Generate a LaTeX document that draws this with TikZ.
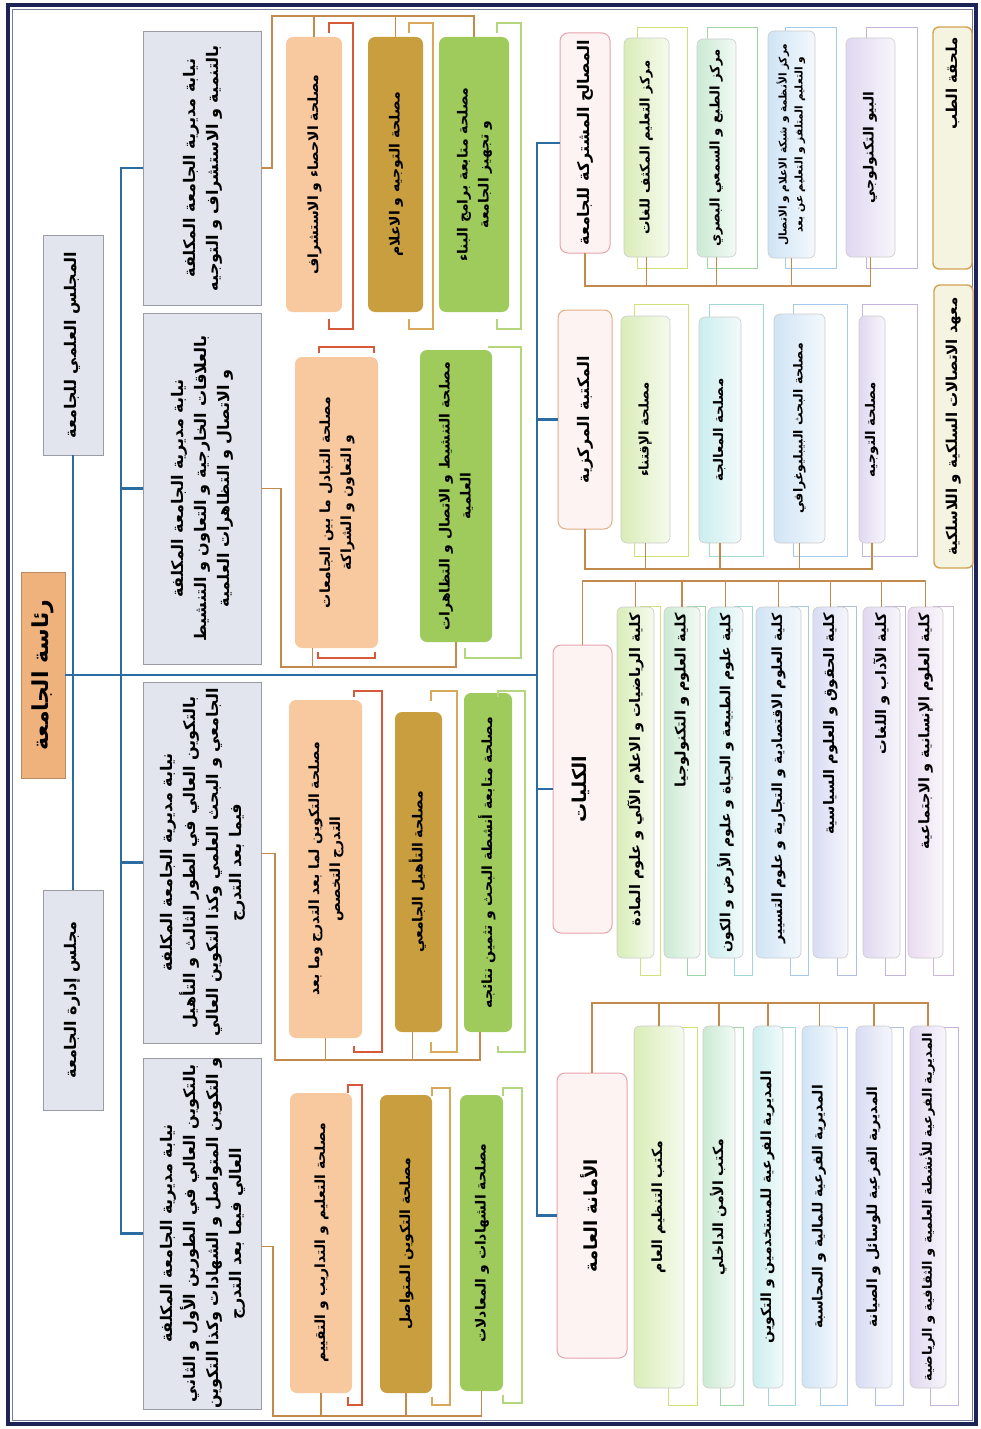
\documentclass[tikz,border=0pt]{standalone}
\usepackage{fontspec}
\usepackage{graphicx}
\usetikzlibrary{calc}
\newfontfamily\ar[Script=Arabic]{DejaVu Sans}
\TeXXeTstate=1
\newcommand\AR[1]{\beginR#1\endR}
\newcommand\vt[1]{\rotatebox{90}{\begin{tabular}{@{}c@{}}#1\end{tabular}}}
\newcommand\vtopal[2]{\rotatebox{90}{\makebox[#1][r]{#2}}}
\newcommand\rbr[7]{\draw[#1] ($(#2.north east)+(-#3,-#5+#7)$) -- ++(0,-#7) -| ($(#2.south east)+(#4,#6)$) -- ++({-#3-#4},0) -- ++(0,-#7);}
\definecolor{navy}{HTML}{1B2357}
\definecolor{blueL}{HTML}{2B6CA3}
\definecolor{brownL}{HTML}{C38A4E}
\definecolor{greyF}{HTML}{E3E5EE}
\definecolor{greyD}{HTML}{9B9CA3}
\definecolor{presF}{HTML}{F0B27C}
\definecolor{presD}{HTML}{B98A62}
\definecolor{orF}{HTML}{F8C89E}
\definecolor{goF}{HTML}{C99E3E}
\definecolor{grF}{HTML}{9ECB5C}
\definecolor{redB}{HTML}{D65A3A}
\definecolor{goB}{HTML}{D9A85A}
\definecolor{grB}{HTML}{B4D67C}
\definecolor{pkF}{HTML}{FDF3F3}
\definecolor{pkD}{HTML}{E7A3AC}
\definecolor{orD}{HTML}{E2AE86}
\definecolor{ylF}{HTML}{F4F4E0}
\definecolor{ylD}{HTML}{D5A252}
\definecolor{cYG}{HTML}{D9EDB8}
\definecolor{cGR}{HTML}{CBEAD3}
\definecolor{cTE}{HTML}{CBEDEE}
\definecolor{cBL}{HTML}{D0E4F5}
\definecolor{cLB}{HTML}{D8DCF3}
\definecolor{cLV}{HTML}{E0D8F1}
\definecolor{cPK}{HTML}{E9DBF0}
\definecolor{fYG}{HTML}{D3E07A}
\definecolor{fGR}{HTML}{9FD6A6}
\definecolor{fTE}{HTML}{9FD8D6}
\definecolor{fBL}{HTML}{A6CBEA}
\definecolor{fLB}{HTML}{B3BCE6}
\definecolor{fLV}{HTML}{C3B4DE}
\definecolor{fPK}{HTML}{CDB6D8}
\tikzset{
  bx/.style={anchor=north west, inner sep=0pt, outer sep=0pt},
  greyb/.style={bx, fill=greyF, draw=greyD, line width=0.9pt, font=\ar\bfseries\fontsize{16}{23}\selectfont},
  council/.style={bx, fill=greyF, draw=greyD, line width=0.9pt, font=\ar\bfseries\fontsize{16}{20}\selectfont},
  presb/.style={bx, fill=presF, draw=presD, line width=0.8pt, font=\ar\bfseries\fontsize{22}{26}\selectfont},
  svc/.style={bx, rounded corners=7pt, fill=#1, font=\ar\bfseries\fontsize{14}{21}\selectfont},
  headb/.style={bx, rounded corners=8pt, fill=pkF, draw=#1, line width=1pt, font=\ar\bfseries\fontsize{16}{20}\selectfont},
  sideb/.style={bx, rounded corners=6pt, fill=ylF, draw=ylD, line width=1.4pt, font=\ar\bfseries\fontsize{15}{18}\selectfont},
  gb/.style={bx, rounded corners=6pt, draw=gray!40, line width=0.6pt, left color=#1, right color=#1!25!white, font=\ar\bfseries\fontsize{13.3}{15}\selectfont},
  fac/.style={gb=#1, font=\ar\bfseries\fontsize{14.5}{16}\selectfont},
  sec/.style={gb=#1, font=\ar\bfseries\fontsize{14}{16}\selectfont},
  frm/.style={draw=#1, line width=1pt},
  bl/.style={draw=blueL, line width=2.4pt},
  br/.style={draw=brownL, line width=1.3pt},
  brk/.style={draw=#1, line width=2.5pt},
}
\begin{document}
\begin{tikzpicture}[x=1pt,y=-1pt]
\useasboundingbox (0,0) rectangle (981,1429);
\fill[white] (0,0) rectangle (981,1429);
\draw[navy, line width=3.5pt] (8,5) rectangle (976,1424);
\draw[navy!60, line width=0.6pt] (12,9) rectangle (972,1420);

% ---- left column
\node[presb, minimum width=44pt, minimum height=206pt] (pres) at (21,572) {\vt{\AR{رئاسة الجامعة}}};
\node[council, minimum width=60pt, minimum height=220pt] (sci) at (43,235) {\vt{\AR{المجلس العلمي للجامعة}}};
\node[council, minimum width=60pt, minimum height=220pt] (adm) at (43,890) {\vt{\AR{مجلس إدارة الجامعة}}};

\node[greyb, minimum width=118pt, minimum height=274pt] (nyA) at (143,31) {\vt{\AR{نيابة مديرية الجامعة المكلفة}\\\AR{بالتنمية و الاستشراف و التوجيه}}};
\node[greyb, minimum width=118pt, minimum height=351pt] (nyB) at (143,313) {\vt{\AR{نيابة مديرية الجامعة المكلفة}\\\AR{بالعلاقات الخارجية و التعاون و التنشيط}\\\AR{و الاتصال و التظاهرات العلمية}}};
\node[greyb, minimum width=118pt, minimum height=361pt] (nyC) at (143,682) {\vt{\AR{نيابة مديرية الجامعة المكلفة}\\\AR{بالتكوين العالي في الطور الثالث و التأهيل}\\\AR{الجامعي و البحث العلمي وكذا التكوين العالي}\\\AR{فيما بعد التدرج}}};
\node[greyb, minimum width=118pt, minimum height=339pt] (nyD) at (143,1058) {\vt{\AR{نيابة مديرية الجامعة المكلفة}\\\AR{بالتكوين العالي في الطورين الأول و الثاني}\\\AR{و التكوين المتواصل و الشهادات وكذا التكوين}\\\AR{العالي فيما بعد التدرج}}};

% ---- services
\node[svc=orF, minimum width=56pt, minimum height=275pt] (A1) at (286,37) {\vt{\AR{مصلحة الاحصاء و الاستشراف}}};
\node[svc=goF, minimum width=55pt, minimum height=275pt] (A2) at (368,37) {\vt{\AR{مصلحة التوجيه و الاعلام}}};
\node[svc=grF, minimum width=70pt, minimum height=275pt] (A3) at (439,37) {\vt{\AR{مصلحة متابعة برامج البناء}\\\AR{و تجهيز الجامعة}}};
\node[svc=orF, minimum width=83pt, minimum height=291pt] (B1) at (295,357) {\vt{\AR{مصلحة التبادل ما بين الجامعات}\\\AR{و التعاون و الشراكة}}};
\node[svc=grF, minimum width=72pt, minimum height=292pt] (B2) at (420,350) {\vt{\AR{مصلحة التنشيط و الاتصال و التظاهرات}\\\AR{العلمية}}};
\node[svc=orF, minimum width=73pt, minimum height=338pt] (C1) at (289,700) {\vt{\AR{مصلحة التكوين لما بعد التدرج وما بعد}\\\AR{التدرج التخصص}}};
\node[svc=goF, minimum width=47pt, minimum height=320pt] (C2) at (395,712) {\vt{\AR{مصلحة التأهيل الجامعي}}};
\node[svc=grF, minimum width=48pt, minimum height=339pt] (C3) at (464,693) {\vt{\AR{مصلحة متابعة أنشطة البحث و تثمين نتائجه}}};
\node[svc=orF, minimum width=62pt, minimum height=300pt] (D1) at (290,1093) {\vt{\AR{مصلحة التعليم و التداريب و التقييم}}};
\node[svc=goF, minimum width=52pt, minimum height=298pt] (D2) at (380,1095) {\vt{\AR{مصلحة التكوين المتواصل}}};
\node[svc=grF, minimum width=43pt, minimum height=296pt] (D3) at (460,1095) {\vt{\AR{مصلحة الشهادات و المعادلات}}};

% brackets
\rbr{brk=redB}{A1}{13}{11}{14}{17}{10}
\rbr{brk=goB}{A2}{14}{10}{14}{17}{10}
\rbr{brk=grB}{A3}{12}{12}{14}{17}{10}
\draw[brk=redB] ($(B1.north west)+(24,-4)$) -- ++(0,-6) -- ($(B1.north east)+(-4,-10)$) -- ++(0,6);
\draw[brk=redB] ($(B1.south west)+(23,4)$) -- ++(0,6) -- ($(B1.south east)+(-3,10)$) -- ++(0,-6);
\draw[brk=grB] ($(B2.north east)+(-4,-3)$) -- ++(33,0) |- ($(B2.south east)+(-27,16)$) -- ++(0,-10);
\rbr{brk=redB}{C1}{8}{20}{9}{14}{6}
\rbr{brk=goB}{C2}{11}{15}{21}{20}{10}
\rbr{brk=grB}{C3}{14}{13}{2}{20}{6}
\rbr{brk=redB}{D1}{4}{10}{8}{12}{8}
\rbr{brk=goB}{D2}{0}{18}{7}{12}{8}
\rbr{brk=grB}{D3}{0}{19}{7}{12}{8}

% ---- right side frames
\foreach \a/\b/\c in {637/687/fYG,707/757/fGR,785/836/fBL,866/917/fLV}
  \draw[frm=\c] (\a,28) rectangle (\b,268);
\foreach \a/\b/\c in {634/688/fYG,709/763/fTE,793/847/fBL,862/917/fLV}
  \draw[frm=\c] (\a,304) rectangle (\b,556);
\foreach \a/\b/\c in {640/660/fYG,687/705/fGR,734/752/fTE,790/808/fBL,837/856/fLB,885/905/fLV,933/953/fPK}
  \draw[frm=\c] (\a,606) rectangle (\b,975);
\foreach \a/\b/\c in {668/697/fYG,720/743/fGR,768/795/fTE,820/847/fBL,875/903/fLB,930/958/fLV}
  \draw[frm=\c] (\a,1027) rectangle (\b,1405);

% ---- shared services
\node[headb=pkD, minimum width=50pt, minimum height=220pt] (Eh) at (560,33) {\vt{\AR{المصالح المشتركة للجامعة}}};
\node[gb=cYG, minimum width=45pt, minimum height=219pt] (E1) at (624,38) {\vt{\AR{مركز التعليم المكثف للغات}}};
\node[gb=cGR, minimum width=39pt, minimum height=218pt] (E2) at (697,39) {\vt{\AR{مركز الطبع و السمعي البصري}}};
\node[gb=cBL, minimum width=47pt, minimum height=227pt, font=\ar\bfseries\fontsize{10.6}{16}\selectfont] (E3) at (768,31) {\vt{\AR{مركز الأنظمة و شبكة الاعلام و الاتصال}\\\AR{و التعليم المتلفز و التعليم عن بعد}}};
\node[gb=cLV, minimum width=49pt, minimum height=219pt, font=\ar\bfseries\fontsize{14}{16}\selectfont] (E4) at (846,38) {\vt{\AR{البيو التكنولوجي}}};
\node[sideb, minimum width=39pt, minimum height=242pt] (med) at (933,27) {\vtopal{222pt}{\AR{ملحقة الطب}}};

% ---- central library
\node[headb=orD, minimum width=54pt, minimum height=219pt] (Fh) at (558,310) {\vt{\AR{المكتبة المركزية}}};
\node[gb=cYG, minimum width=49pt, minimum height=227pt] (F1) at (621,316) {\vt{\AR{مصلحة الإقتناء}}};
\node[gb=cTE, minimum width=42pt, minimum height=226pt] (F2) at (699,317) {\vt{\AR{مصلحة المعالجة}}};
\node[gb=cBL, minimum width=51pt, minimum height=229pt, font=\ar\bfseries\fontsize{12.5}{15}\selectfont] (F3) at (774,314) {\vt{\AR{مصلحة البحث البيبليوغرافي}}};
\node[gb=cLV, minimum width=26pt, minimum height=227pt] (F4) at (859,316) {\vt{\AR{مصلحة التوجيه}}};
\node[sideb, minimum width=39pt, minimum height=283pt] (inst) at (934,285) {\vt{\AR{معهد الاتصالات السلكية و اللاسلكية}}};

% ---- faculties
\node[headb=pkD, minimum width=59pt, minimum height=288pt, font=\ar\bfseries\fontsize{19}{22}\selectfont] (Gh) at (553,645) {\vt{\AR{الكليات}}};
\node[fac=cYG, minimum width=37pt, minimum height=351pt] (G1) at (617,607) {\vtopal{338pt}{\AR{كلية الرياضيات و الاعلام الآلي و علوم المادة}}};
\node[fac=cGR, minimum width=36pt, minimum height=351pt] (G2) at (664,607) {\vtopal{338pt}{\AR{كلية العلوم و التكنولوجيا}}};
\node[fac=cTE, minimum width=35pt, minimum height=351pt, font=\ar\bfseries\fontsize{14}{16}\selectfont] (G3) at (708,607) {\vtopal{338pt}{\AR{كلية علوم الطبيعة و الحياة و علوم الأرض و الكون}}};
\node[fac=cBL, minimum width=45pt, minimum height=351pt, font=\ar\bfseries\fontsize{14}{16}\selectfont] (G4) at (756,607) {\vtopal{338pt}{\AR{كلية العلوم الاقتصادية و التجارية و علوم التسيير}}};
\node[fac=cLB, minimum width=35pt, minimum height=351pt] (G5) at (813,607) {\vtopal{338pt}{\AR{كلية الحقوق و العلوم السياسية}}};
\node[fac=cLV, minimum width=37pt, minimum height=351pt] (G6) at (863,607) {\vtopal{338pt}{\AR{كلية الآداب و اللغات}}};
\node[fac=cPK, minimum width=35pt, minimum height=351pt] (G7) at (908,607) {\vtopal{338pt}{\AR{كلية العلوم الإنسانية و الاجتماعية}}};

% ---- general secretariat
\node[headb=pkD, minimum width=70pt, minimum height=285pt, font=\ar\bfseries\fontsize{18}{22}\selectfont] (Hh) at (557,1073) {\vt{\AR{الأمانة العامة}}};
\node[sec=cYG, minimum width=50pt, minimum height=362pt] (H1) at (634,1026) {\vt{\AR{مكتب التنظيم العام}}};
\node[sec=cGR, minimum width=32pt, minimum height=362pt] (H2) at (703,1026) {\vt{\AR{مكتب الأمن الداخلي}}};
\node[sec=cTE, minimum width=30pt, minimum height=362pt] (H3) at (753,1026) {\vt{\AR{المديرية الفرعية للمستخدمين و التكوين}}};
\node[sec=cBL, minimum width=35pt, minimum height=362pt] (H4) at (802,1026) {\vt{\AR{المديرية الفرعية للمالية و المحاسبة}}};
\node[sec=cLB, minimum width=36pt, minimum height=362pt] (H5) at (856,1026) {\vt{\AR{المديرية الفرعية للوسائل و الصيانة}}};
\node[sec=cLV, minimum width=36pt, minimum height=362pt, font=\ar\bfseries\fontsize{13}{15}\selectfont] (H6) at (910,1026) {\vt{\AR{المديرية الفرعية للأنشطة العلمية و الثقافية و الرياضية}}};

% ---- blue connectors
\coordinate (LV) at (121,0);
\coordinate (RV) at (537,0);
\draw[bl] (sci.south) -- (adm.north);
\draw[bl] (pres.east) -- (pres.east -| RV);
\draw[bl] (nyA.west) -- (nyA.west -| LV) -- (nyD.west -| LV) -- (nyD.west);
\draw[bl] (nyB.west) -- (nyB.west -| LV);
\draw[bl] (nyC.west) -- (nyC.west -| LV);
\draw[bl] (Eh.west) -- (Eh.west -| RV) -- (Hh.west -| RV) -- (Hh.west);
\draw[bl] (Fh.west) -- (Fh.west -| RV);
\draw[bl] (Gh.west) -- (Gh.west -| RV);

% ---- brown connectors, left half
\coordinate (ca) at (272,16);
\draw[br] (nyA.east) -- (nyA.east -| ca) -- (ca) -- (ca -| A3.north) -- (A3.north);
\draw[br] (ca -| A1.north) -- (A1.north);
\draw[br] (ca -| A2.north) -- (A2.north);

\coordinate (cb) at (281,667);
\coordinate (B1s) at ($(B1.south)+(-24,0)$);
\draw[br] (nyB.east) -- (nyB.east -| cb) -- (cb) -- (cb -| B2.south) -- (B2.south);
\draw[br] (B1s) -- (B1s |- cb);

\coordinate (cc) at (275,1060);
\coordinate (nyCo) at ($(nyC.east)+(0,-9)$);
\coordinate (C2s) at ($(C2.south)+(-6,0)$);
\coordinate (C3s) at ($(C3.south)+(-8,0)$);
\draw[br] (nyCo) -- (nyCo -| cc) -- (cc) -- (cc -| C3s) -- (C3s);
\draw[br] (C1.south) -- (C1.south |- cc);
\draw[br] (C2s) -- (C2s |- cc);

\coordinate (cd) at (273,1416);
\coordinate (nyDo) at ($(nyD.east)+(0,13)$);
\draw[br] (nyDo) -- (nyDo -| cd) -- (cd) -- (cd -| D3.south) -- (D3.south);
\draw[br] (D1.south) -- (D1.south |- cd);
\draw[br] (D2.south) -- (D2.south |- cd);

% ---- brown connectors, right half
\coordinate (ce) at (0,286);
\draw[br] (Eh.south) -- (Eh.south |- ce) -- (ce -| E4.south) -- (E4.south);
\foreach \n in {E1,E2,E3} \draw[br] (\n.south) -- (\n.south |- ce);
\coordinate (cf) at (0,569);
\draw[br] (Fh.south) -- (Fh.south |- cf) -- (cf -| F4.south) -- (F4.south);
\foreach \n in {F1,F2,F3} \draw[br] (\n.south) -- (\n.south |- cf);
\coordinate (cg) at (0,581);
\draw[br] (Gh.north) -- (Gh.north |- cg) -- (cg -| G7.north) -- (G7.north);
\foreach \n in {G1,G2,G3,G4,G5,G6} \draw[br] (\n.north) -- (\n.north |- cg);
\coordinate (ch) at (0,1003);
\draw[br] (Hh.north) -- (Hh.north |- ch) -- (ch -| H6.north) -- (H6.north);
\foreach \n in {H1,H2,H3,H4,H5} \draw[br] (\n.north) -- (\n.north |- ch);
\end{tikzpicture}
\end{document}
